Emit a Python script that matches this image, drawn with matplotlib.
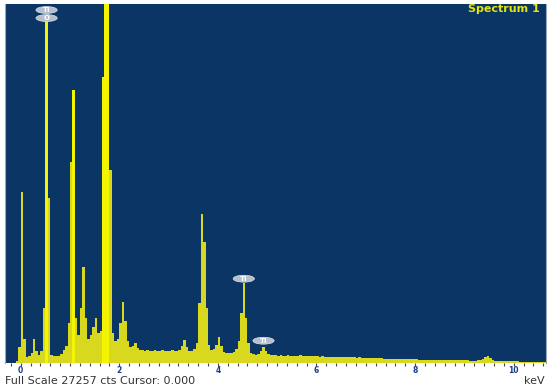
import numpy as np
import matplotlib
matplotlib.use("Agg")
import matplotlib.pyplot as plt
from matplotlib.patches import Ellipse
from matplotlib.ticker import MultipleLocator

# ---- data (counts per 0.05 keV channel) ----
channel_start_kev = -0.325
channel_width_kev = 0.05

# -0.325 .. 0.975 keV
counts_low = [0, 0, 0, 0, 0, 150, 1200, 12960, 1800, 460, 530, 760, 1790, 910,
              610, 910, 4200, 26340, 12500, 610, 530, 530, 530, 690, 990, 1300,
              3050]
# 1.025 .. 2.425 keV
counts_na_si = [15250, 20700, 3430, 2130, 4190, 7280, 3430, 1830, 2130, 2740,
                3390, 2290, 2440, 21700, 40000, 40000, 14650, 2290, 1680, 1830,
                3050, 4610, 3200, 1680, 1220, 1300, 1490, 1140, 990]
# 2.475 .. 5.125 keV
counts_k_ti = [990, 910, 990, 910, 910, 990, 910, 910, 990, 910, 910, 910, 990,
               910, 910, 990, 1300, 1720, 1220, 910, 910, 1070, 1520, 4570,
               11320, 9150, 4190, 1370, 990, 1070, 1370, 1940, 1300, 840, 760,
               760, 760, 840, 1070, 1680, 3810, 6060, 3430, 1520, 760, 690, 610,
               690, 910, 1180, 910, 690, 610, 610]
# 5.175 .. 7.975 keV
counts_mid = [570, 530, 570, 530, 530, 570, 530, 500, 530, 530, 570, 530, 500,
              530, 500, 530, 500,
              500, 490, 500, 480, 470, 480, 460, 470, 450, 460, 440, 450, 430,
              440, 420, 430, 410, 420, 400, 410,
              390, 380, 380, 370, 360, 360, 350, 340, 340, 330, 320, 320, 310,
              300, 300, 290, 290, 280, 270, 270]
# 8.025 .. 10.625 keV
counts_high = [270, 260, 260, 250, 250, 240, 240, 230, 230, 220, 220, 210, 210,
               200, 200, 200, 190, 190, 190, 190,
               190, 190, 180, 180, 180, 190, 230, 320, 480, 530, 400, 260, 180,
               160, 150, 150, 140, 140, 130, 130,
               120, 120, 110, 110, 100, 100, 100, 90, 90, 90, 80, 80, 80]

full_scale = 27257
x_ticks = [0, 2, 4, 6, 8, 10]

label_names = ["Ti", "O", "Ti", "Ti"]
label_energy = [0.525, 0.525, 4.525, 4.925]
label_counts = [26800, 26190, 6400, 1690]

counts = np.array(counts_low + counts_na_si + counts_k_ti + counts_mid + counts_high)
energy = channel_start_kev + channel_width_kev * np.arange(len(counts))

# ---- figure ----
W, H = 550, 387
fig = plt.figure(figsize=(W / 100, H / 100), dpi=100)
fig.patch.set_facecolor("white")
ax = fig.add_axes([5 / W, 24.0 / H, 541 / W, 359.0 / H])
ax.set_facecolor("#0b3565")

bar_colors = ["#f4f400" if c > 20000 else "#d8d81e" for c in counts]
ax.bar(energy, counts, width=channel_width_kev, color=bar_colors,
       linewidth=0, align="center")

ax.set_xlim(-0.318, 10.655)
ax.set_ylim(0, full_scale)
ax.set_yticks([])
ax.set_xticks(x_ticks)
ax.xaxis.set_minor_locator(MultipleLocator(0.2))
ax.tick_params(axis="x", which="both", direction="out", length=2.0, width=0.8,
               color="#444444", labelsize=5.5, labelcolor="#1c3c8c", pad=0.5)
for lbl in ax.get_xticklabels():
    lbl.set_fontweight("bold")

for side in ["top", "bottom"]:
    ax.spines[side].set_visible(False)
for side in ["left", "right"]:
    ax.spines[side].set_color("#9aa8bb")
    ax.spines[side].set_linewidth(0.8)

# element labels
for name, e, c in zip(label_names, label_energy, label_counts):
    ell = Ellipse((e, c), width=0.43, height=520, facecolor="#b6bfcc",
                  edgecolor="#dfe4ea", linewidth=0.5, zorder=4, clip_on=False)
    ax.add_patch(ell)
    ax.text(e, c, name, color="white", fontsize=5, ha="center", va="center",
            fontweight="bold", zorder=5)

fig.text(540 / W, 1 - 9 / H, "Spectrum 1", color="#e4e410", fontsize=8,
         fontweight="bold", ha="right", va="center")
fig.text(5 / W, 1 - 386.5 / H, "Full Scale 27257 cts Cursor: 0.000", color="#333333",
         fontsize=8, ha="left", va="bottom")
fig.text(545 / W, 1 - 386.5 / H, "keV", color="#333333", fontsize=8,
         ha="right", va="bottom")

fig.savefig("out.png", dpi=100)
